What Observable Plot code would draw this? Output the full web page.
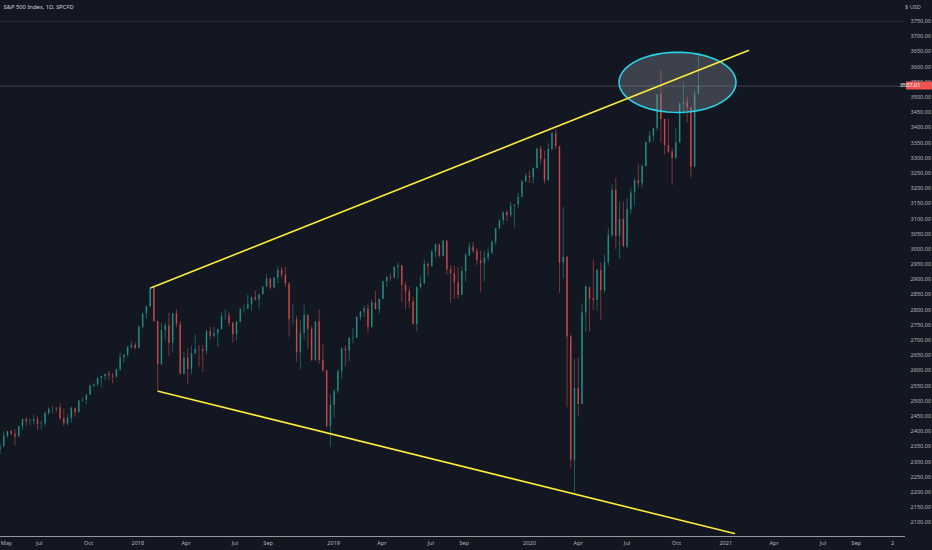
<!DOCTYPE html>
<html>
<head>
<meta charset="utf-8">
<script src="https://cdn.jsdelivr.net/npm/d3@7"></script>
<script src="https://cdn.jsdelivr.net/npm/@observablehq/plot@0.6"></script>
<style>
  html, body { margin: 0; padding: 0; background: #131722; }
  #chart { width: 932px; height: 550px; overflow: hidden; }
</style>
</head>
<body>
<div id="chart"></div>
<script>
// S&P 500 weekly candles (week ending Fridays, Apr 2017 - Nov 2020)
const title = "S&P 500 Index, 1D, SPCFD";
const currency = "USD";
const firstOpen = 2338.2;

const closes = [
  // 2017
  2348.69, 2384.20, 2399.29, 2390.90, 2381.73, 2415.82, 2439.07, 2431.77, 2433.15, 2438.30, 2423.41, 2425.18, 2459.27,
  2472.54, 2472.10, 2476.83, 2441.32, 2425.55, 2443.05, 2476.55, 2461.43, 2500.23, 2502.22, 2519.36, 2549.33, 2553.17,
  2575.21, 2581.07, 2587.84, 2582.30, 2578.85, 2602.42, 2642.22, 2651.50, 2675.81, 2683.34, 2673.61,
  // 2018
  2743.15, 2786.24, 2810.30, 2872.87, 2762.13, 2619.55, 2732.22, 2747.30, 2691.25, 2786.57, 2752.01, 2588.26, 2640.87,
  2604.47, 2656.30, 2670.14, 2669.91, 2663.42, 2727.72, 2712.97, 2721.33, 2734.62, 2779.03, 2779.66, 2754.88, 2718.37,
  2759.82, 2801.31, 2801.83, 2818.82, 2840.35, 2833.28, 2850.13, 2874.69, 2901.52, 2871.68, 2904.98, 2929.67, 2913.98,
  2885.57, 2767.13, 2767.78, 2658.69, 2723.06, 2781.01, 2736.27, 2632.56, 2760.17, 2633.08, 2599.95, 2416.62, 2485.74,
  // 2019
  2531.94, 2596.26, 2670.71, 2664.76, 2706.53, 2707.88, 2775.60, 2792.67, 2803.69, 2743.07, 2822.48, 2800.71, 2834.40,
  2892.74, 2907.41, 2905.03, 2939.88, 2945.64, 2881.40, 2859.53, 2826.06, 2752.06, 2873.34, 2886.98, 2950.46, 2941.76,
  2990.41, 3013.77, 2976.61, 3025.86, 2932.05, 2918.65, 2888.68, 2847.11, 2926.46, 2978.71, 3007.39, 2992.07, 2961.79,
  2952.01, 2970.27, 2986.20, 3022.55, 3066.91, 3093.08, 3120.46, 3110.29, 3140.98, 3145.91, 3168.80, 3221.22, 3240.02,
  // 2020
  3234.85, 3265.35, 3329.62, 3295.47, 3225.52, 3327.71, 3380.16, 3337.75, 2954.22, 2972.37, 2711.02, 2304.92, 2541.47,
  2488.65, 2789.82, 2874.56, 2836.74, 2830.71, 2929.80, 2863.70, 2955.45, 3044.31, 3193.93, 3041.31, 3097.74, 3009.05,
  3130.01, 3185.04, 3224.73, 3215.63, 3271.12, 3351.28, 3372.85, 3397.16, 3508.01, 3426.96, 3340.97, 3319.47, 3298.46,
  3348.44, 3477.13, 3483.81, 3465.39, 3269.96, 3509.44, 3537.01
];

const highs = [
  // 2017
  2361, 2398, 2400, 2403, 2405, 2418, 2440, 2446, 2441, 2453, 2448, 2434, 2463,
  2478, 2484, 2478, 2490, 2474, 2456, 2480, 2471, 2501, 2508, 2520, 2552, 2557,
  2576, 2582, 2588, 2597, 2590, 2605, 2658, 2653, 2680, 2695, 2692,
  // 2018
  2747, 2787, 2811, 2873, 2873, 2763, 2754, 2756, 2789, 2787, 2801, 2761, 2660,
  2672, 2680, 2718, 2683, 2683, 2733, 2743, 2742, 2736, 2792, 2801, 2790, 2760,
  2762, 2804, 2816, 2848, 2841, 2863, 2851, 2876, 2916, 2906, 2906, 2941, 2940,
  2940, 2889, 2817, 2779, 2766, 2815, 2785, 2747, 2761, 2800, 2685, 2601, 2520,
  // 2019
  2538, 2604, 2675, 2681, 2709, 2739, 2776, 2795, 2814, 2817, 2831, 2861, 2836,
  2894, 2910, 2918, 2940, 2955, 2946, 2892, 2874, 2841, 2876, 2911, 2964, 2955,
  2996, 3018, 3017, 3029, 3028, 2945, 2943, 2939, 2941, 2985, 3021, 3022, 3002,
  2993, 2993, 3000, 3027, 3067, 3098, 3121, 3127, 3154, 3147, 3183, 3226, 3248,
  // 2020
  3258, 3268, 3330, 3338, 3322, 3347, 3385, 3394, 3338, 3137, 2976, 2718, 2637,
  2642, 2819, 2880, 2868, 2965, 2933, 2954, 2981, 3068, 3211, 3233, 3155, 3155,
  3166, 3198, 3233, 3280, 3279, 3352, 3387, 3399, 3509, 3588, 3427, 3428, 3330,
  3397, 3482, 3550, 3501, 3466, 3521, 3646
];

const lows = [
  // 2017
  2323, 2349, 2378, 2387, 2353, 2381, 2403, 2415, 2418, 2422, 2405, 2407, 2415,
  2453, 2459, 2463, 2437, 2417, 2417, 2428, 2446, 2461, 2496, 2488, 2520, 2543,
  2547, 2544, 2566, 2566, 2557, 2576, 2598, 2624, 2642, 2671, 2667,
  // 2018
  2673, 2737, 2768, 2808, 2759, 2533, 2617, 2697, 2647, 2658, 2741, 2585, 2585,
  2554, 2587, 2652, 2612, 2594, 2652, 2701, 2706, 2676, 2734, 2764, 2743, 2691,
  2698, 2757, 2789, 2802, 2796, 2829, 2802, 2849, 2874, 2864, 2868, 2886, 2904,
  2874, 2710, 2750, 2628, 2603, 2700, 2670, 2631, 2631, 2621, 2593, 2409, 2347,
  // 2019
  2443, 2524, 2571, 2612, 2631, 2688, 2705, 2764, 2775, 2722, 2739, 2799, 2785,
  2834, 2874, 2894, 2899, 2900, 2825, 2801, 2805, 2750, 2728, 2868, 2883, 2911,
  2940, 2970, 2970, 2973, 2914, 2822, 2834, 2834, 2853, 2891, 2975, 2985, 2946,
  2856, 2892, 2958, 2982, 3011, 3066, 3079, 3091, 3104, 3070, 3134, 3183, 3220,
  // 2020
  3216, 3214, 3263, 3280, 3214, 3223, 3323, 3328, 2855, 2902, 2478, 2280, 2192,
  2447, 2488, 2727, 2727, 2798, 2797, 2766, 2854, 2945, 3038, 2999, 2966, 3005,
  3002, 3115, 3142, 3201, 3200, 3272, 3347, 3354, 3387, 3349, 3310, 3314, 3210,
  3294, 3354, 3441, 3415, 3234, 3270, 3509
];

// drawings on the chart (date, price)
const upperTrend = [{date: "2018-01-26", price: 2873}, {date: "2021-02-12", price: 3654}];
const lowerTrend = [{date: "2018-02-08", price: 2532}, {date: "2021-01-17", price: 2064}];
const ellipseCenter = {date: "2020-10-03", price: 3549};
const ellipseRadius = {days: 109, price: 99};

// axes
const xTickDates = ["2017-05-01", "2017-07-01", "2017-10-01", "2018-01-01", "2018-04-01", "2018-07-01", "2018-09-01",
  "2019-01-01", "2019-04-01", "2019-07-01", "2019-09-01", "2020-01-01", "2020-04-01", "2020-07-01", "2020-10-01",
  "2021-01-01", "2021-04-01", "2021-07-01", "2021-09-01", "2021-11-08"];
const xTickLabels = ["May", "Jul", "Oct", "2018", "Apr", "Jul", "Sep", "2019", "Apr", "Jul", "Sep",
  "2020", "Apr", "Jul", "Oct", "2021", "Apr", "Jul", "Sep", "2"];
const yTicks = [2100, 2150, 2200, 2250, 2300, 2350, 2400, 2450, 2500, 2550, 2600, 2650, 2700, 2750, 2800, 2850,
  2900, 2950, 3000, 3050, 3100, 3150, 3200, 3250, 3300, 3350, 3400, 3450, 3500, 3550, 3600, 3650, 3700, 3750];
const xDomain = ["2017-04-20", "2021-12-02"];
const yDomain = [2054, 3818.5];

const parse = d3.timeParse("%Y-%m-%d");
const upColor = "#26a69a";
const downColor = "#ef5350";

const fridays = d3.timeFriday.range(new Date(2017, 3, 21), new Date(2020, 10, 14));
if (fridays.length !== closes.length || highs.length !== closes.length || lows.length !== closes.length) {
  console.log("length mismatch", fridays.length, closes.length, highs.length, lows.length);
}

const candles = closes.map((c, i) => {
  const open = i ? closes[i - 1] : firstOpen;
  return {
    date: d3.timeDay.offset(fridays[i], -2),
    open, close: c, high: highs[i], low: lows[i],
    color: c >= open ? upColor : downColor
  };
});
const lastClose = closes[closes.length - 1];

const toPts = arr => arr.map(d => ({date: parse(d.date), price: d.price}));

// ellipse outline in data space
const ec = parse(ellipseCenter.date);
const ellipsePts = d3.range(0, 73).map(k => {
  const t = (k / 72) * 2 * Math.PI;
  return {
    date: d3.timeHour.offset(ec, Math.round(ellipseRadius.days * 24 * Math.cos(t))),
    price: ellipseCenter.price + ellipseRadius.price * Math.sin(t)
  };
});

const tickLabelByTime = new Map(xTickDates.map((d, i) => [+parse(d), xTickLabels[i]]));

// price tag and currency label in the right margin
function priceTag(index, scales, values, dims) {
  const g = d3.create("svg:g").attr("font-family", "'Noto Sans', sans-serif");
  const x0 = dims.width - dims.marginRight;
  const y = scales.y(lastClose);
  g.append("rect")
    .attr("x", x0 + 1).attr("y", y - 4)
    .attr("width", dims.marginRight - 1).attr("height", 8)
    .attr("fill", "#f05350");
  g.append("text")
    .attr("x", x0 + 5).attr("y", y).attr("dy", "0.35em")
    .attr("fill", "#ffffff").attr("font-size", 5.6)
    .text(lastClose.toFixed(2));
  g.append("text")
    .attr("x", x0 + 8).attr("y", 7).attr("dy", "0.35em")
    .attr("fill", "#b2b5be").attr("font-size", 5.6)
    .text("$ " + currency);
  return g.node();
}

const chart = Plot.plot({
  width: 932,
  height: 550,
  marginTop: 0,
  marginLeft: 0,
  marginRight: 27,
  marginBottom: 14,
  style: {
    background: "#131722",
    color: "#b2b5be",
    fontFamily: "'Noto Sans', sans-serif",
    fontSize: "5.6px"
  },
  x: {type: "time", domain: xDomain.map(parse)},
  y: {domain: yDomain},
  color: {type: "identity"},
  marks: [
    Plot.ruleY([3750], {stroke: "#2a2e39", strokeWidth: 1}),
    Plot.ruleY([lastClose], {stroke: "#787b86", strokeOpacity: 0.55, strokeWidth: 0.8}),
    Plot.ruleX(candles, {x: "date", y1: "low", y2: "high", stroke: "color", strokeWidth: 0.7, strokeOpacity: 0.7}),
    Plot.ruleX(candles, {x: "date", y1: "open", y2: "close", stroke: "color", strokeWidth: 1.5, strokeOpacity: 0.7}),
    Plot.line(ellipsePts, {
      x: "date", y: "price", curve: "linear-closed",
      fill: "#9598a1", fillOpacity: 0.33, stroke: "#27d3e5", strokeWidth: 1.6
    }),
    Plot.line(toPts(upperTrend), {x: "date", y: "price", stroke: "#ffeb3b", strokeWidth: 1.6}),
    Plot.line(toPts(lowerTrend), {x: "date", y: "price", stroke: "#ffeb3b", strokeWidth: 1.6}),
    Plot.ruleY([yDomain[0]], {stroke: "#9598a1", strokeWidth: 1}),
    Plot.axisY({
      anchor: "right", ticks: yTicks, tickSize: 0, tickPadding: 5,
      tickFormat: d => d.toFixed(2), label: null
    }),
    Plot.axisX({
      ticks: xTickDates.map(parse), tickSize: 0, tickPadding: 5,
      tickFormat: d => tickLabelByTime.get(+d), label: null
    }),
    Plot.text([title], {
      frameAnchor: "top-left", text: d => d, dx: 3, dy: 4,
      textAnchor: "start", lineAnchor: "top", fill: "#d1d4dc", fontSize: 5.8
    }),
    priceTag
  ]
});

document.getElementById("chart").append(chart);
</script>
</body>
</html>
